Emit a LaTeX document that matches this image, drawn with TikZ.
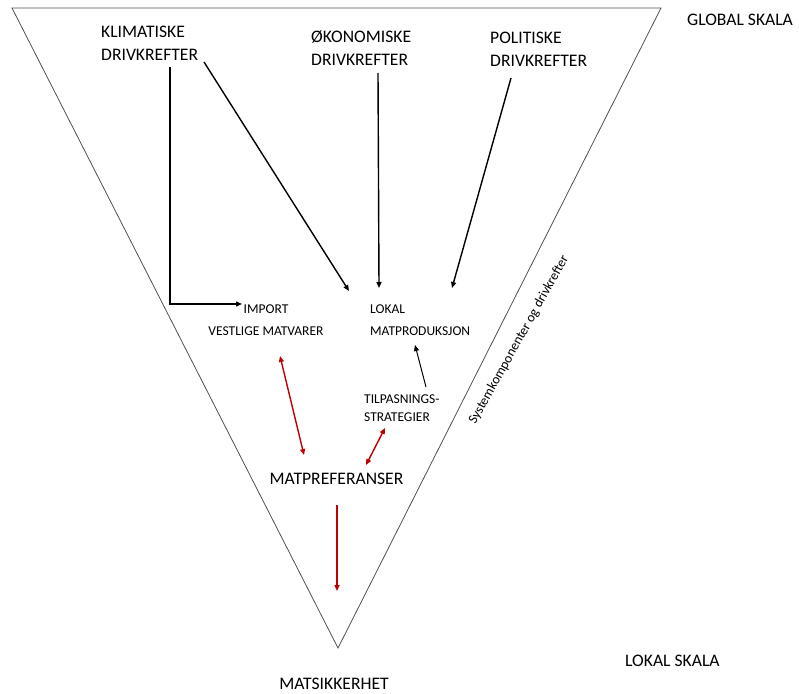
\documentclass[tikz,border=0pt]{standalone}
\usepackage{fontspec}
\setmainfont{Carlito}
\usetikzlibrary{arrows.meta}
\definecolor{wordred}{HTML}{C00000}
\definecolor{trigray}{HTML}{505050}
\begin{document}
\begin{tikzpicture}[x=1pt,y=-1pt,
  big/.style={font=\fontsize{17.6}{23}\selectfont, inner sep=0pt},
  small/.style={font=\fontsize{13.5}{22}\selectfont, inner sep=0pt},
  tip/.tip={Triangle[length=6pt,width=5pt]},
  blkarr/.style={draw=black, line width=1.4pt, -tip},
  thinarr/.style={draw=black, line width=1pt, -tip},
  redarr/.style={draw=wordred, line width=1.4pt, tip-tip},
  redone/.style={draw=wordred, line width=1.4pt, -tip},
  tri/.style={draw=trigray, line width=0.8pt}]
\useasboundingbox (0,0) rectangle (799,693);
% funnel
\coordinate (tl) at (12,8);
\coordinate (tr) at (661,8);
\coordinate (ap) at (338,648);
\draw[tri] (tl) -- (tr) -- (ap) -- cycle;
% labels
\node[big, anchor=west, align=left] (klim) at (101,43) {KLIMATISKE\\DRIVKREFTER};
\node[big, anchor=west, align=left] (oko) at (311,48) {ØKONOMISKE\\DRIVKREFTER};
\node[big, anchor=west, align=left] (pol) at (490,49) {POLITISKE\\DRIVKREFTER};
\node[big, anchor=west] (glob) at (687,20) {GLOBAL SKALA};
\node[big, anchor=west] (lok) at (625,661) {LOKAL SKALA};
\node[small, align=center] (imp) at (266,320.5) {IMPORT\\VESTLIGE MATVARER};
\node[small, anchor=west, align=left] (lmp) at (370,320.5) {LOKAL\\MATPRODUKSJON};
\node[small, anchor=west, align=left, font=\fontsize{13.5}{18}\selectfont] (tilp) at (364,408) {TILPASNINGS-\\STRATEGIER};
\node[big] (mpref) at (336.5,479) {MATPREFERANSER};
\node[big] (msik) at (334,684) {MATSIKKERHET};
\node[small, rotate=60.7] (sys) at (519,340) {Systemkomponenter og drivkrefter};
% connector end points
\coordinate (k1) at (170,67);
\coordinate (k2) at (170,304);
\coordinate (k3) at (242,304);
\coordinate (kd1) at (204,62);
\coordinate (kd2) at (349,291);
\coordinate (o1) at (378,73);
\coordinate (o2) at (379,288);
\coordinate (p1) at (511,78);
\coordinate (p2) at (452,288);
\coordinate (t1) at (426,387);
\coordinate (t2) at (415,345);
\coordinate (r1) at (280,356);
\coordinate (r2) at (304,455);
\coordinate (s1) at (385,428);
\coordinate (s2) at (366,465);
\coordinate (m1) at (337,505);
\coordinate (m2) at (337,591);
% connectors
\draw[blkarr] (k1) -- (k2) -- (k3);
\draw[blkarr] (kd1) -- (kd2);
\draw[blkarr] (o1) -- (o2);
\draw[blkarr] (p1) -- (p2);
\draw[thinarr] (t1) -- (t2);
\draw[redarr] (r1) -- (r2);
\draw[redarr] (s1) -- (s2);
\draw[redone] (m1) -- (m2);
\end{tikzpicture}
\end{document}
